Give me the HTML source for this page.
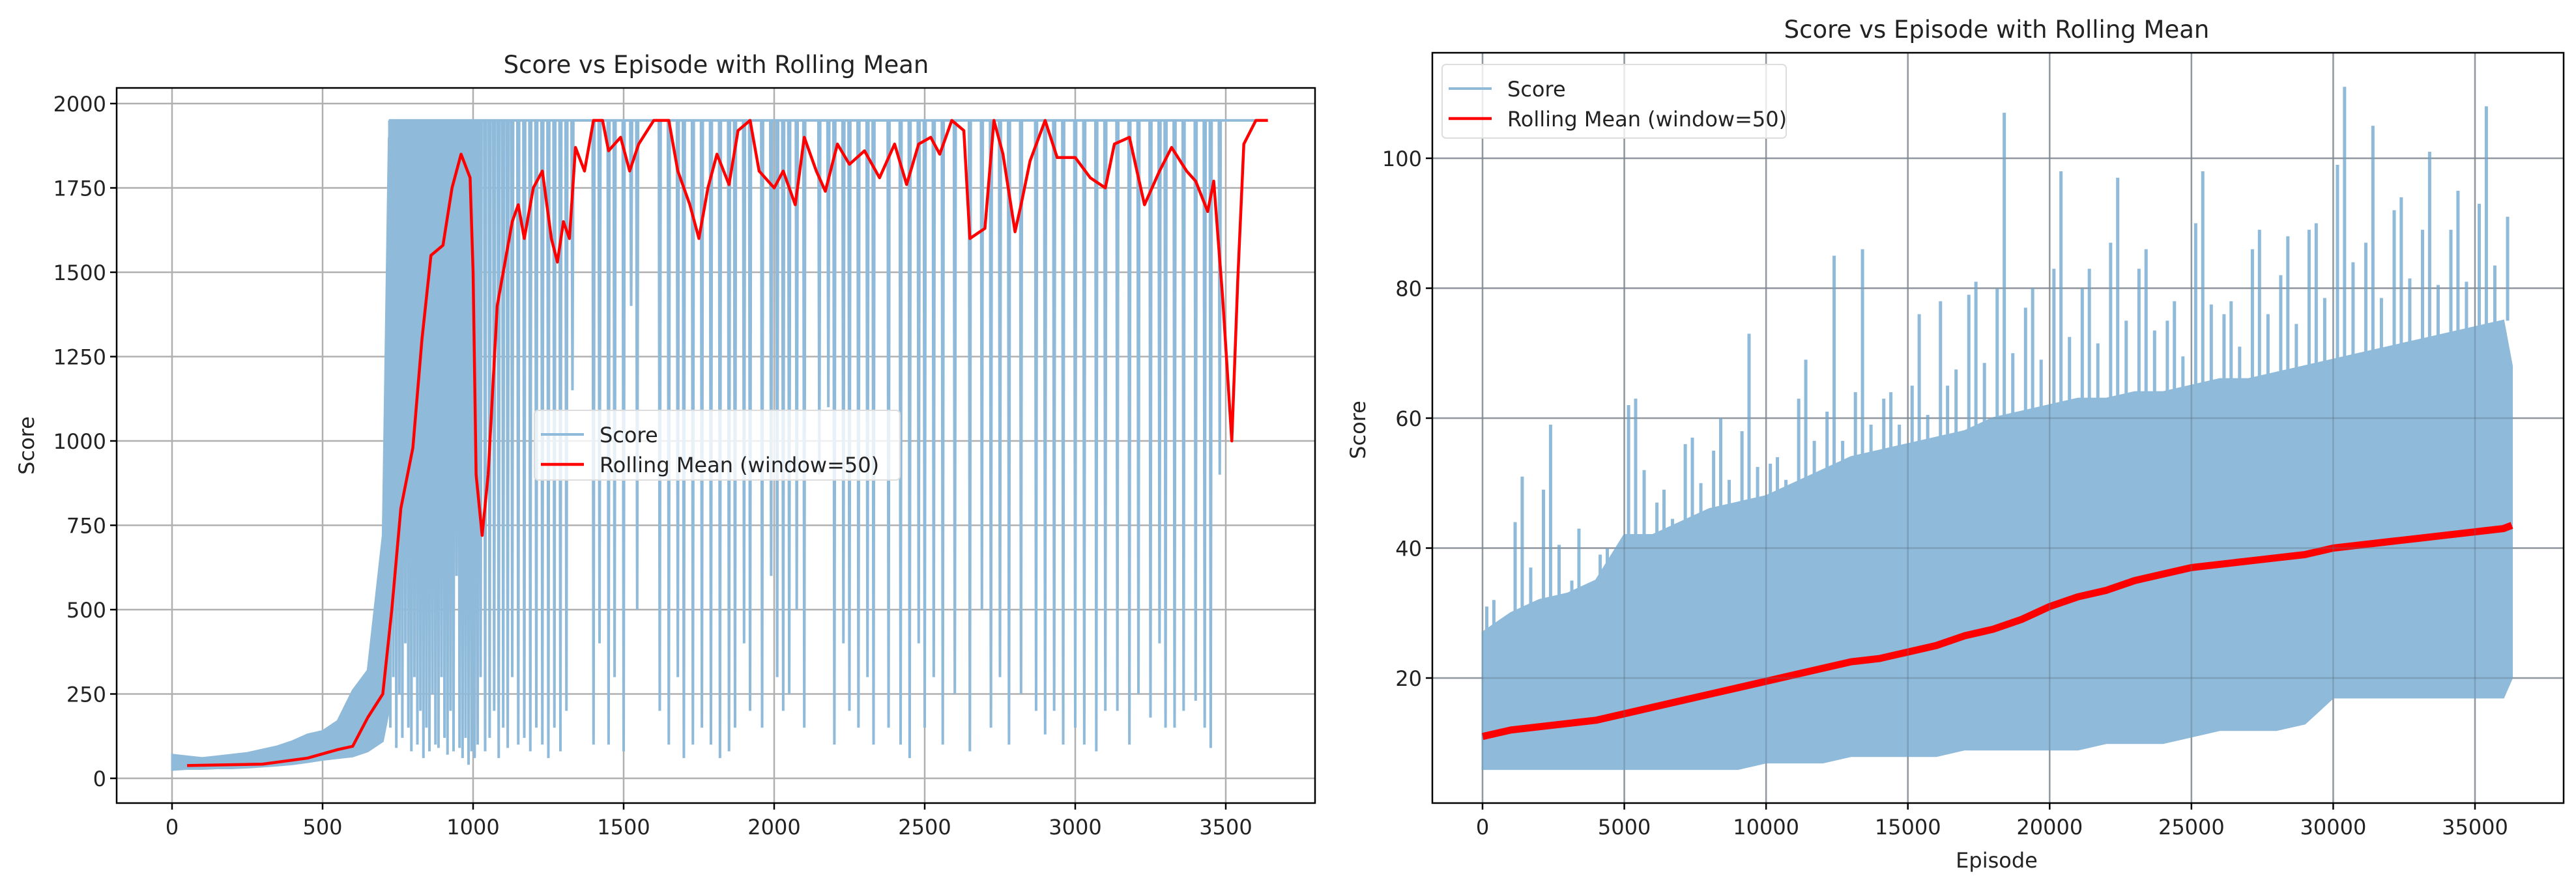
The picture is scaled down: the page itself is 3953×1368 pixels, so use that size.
<!DOCTYPE html>
<html><head><meta charset="utf-8"><style>
html,body{margin:0;padding:0;background:#fff}
svg{display:block}
text{font-family:"DejaVu Sans","Liberation Sans",sans-serif;fill:#222}
</style></head><body>
<svg id="s" width="3953" height="1368" viewBox="0 0 3953 1368" xmlns="http://www.w3.org/2000/svg"></svg>
<script>
// ---------- Left chart data ----------
const leftXTicks=[0,500,1000,1500,2000,2500,3000,3500];
const leftYTicks=[0,250,500,750,1000,1250,1500,1750,2000];
const earlyEp=[0,50,100,150,200,250,300,350,400,450,500,550,600,650,700,720];
const earlyHigh=[70,65,60,65,70,75,85,95,110,130,140,170,260,320,720,1900];
const earlyLow=[25,28,28,30,30,32,35,38,42,48,55,60,65,80,110,200];
const capScore=1950;
const dipEp=[725,735,745,755,765,775,785,795,805,815,825,835,845,855,865,875,885,895,905,915,925,935,945,955,965,975,985,995,1005,1015,1025,1040,1055,1070,1085,1100,1115,1130,1150,1170,1190,1210,1230,1250,1270,1290,1310,1330,1400,1420,1450,1470,1500,1525,1545,1620,1650,1680,1700,1730,1760,1790,1820,1850,1870,1900,1920,1960,1990,2010,2030,2050,2075,2100,2150,2180,2200,2230,2250,2280,2310,2330,2380,2420,2450,2480,2500,2530,2560,2600,2650,2690,2720,2750,2780,2820,2870,2900,2930,2960,3000,3030,3070,3100,3140,3180,3210,3250,3280,3300,3330,3360,3400,3430,3450,3480];
const dipLow=[150,300,90,250,120,400,150,80,300,100,200,60,150,80,250,100,90,300,120,70,200,80,600,90,60,120,40,80,60,100,300,80,120,200,60,150,90,300,100,120,80,150,100,60,150,80,200,1150,100,400,100,300,80,1400,500,200,100,300,60,100,150,100,60,80,150,400,200,150,600,300,200,250,500,150,900,1100,100,400,200,150,300,100,150,100,60,400,150,300,100,250,80,500,150,300,100,250,200,130,200,100,150,100,80,200,200,100,250,180,400,150,150,200,230,150,90,900];
const meanEp=[50,300,450,550,600,650,700,730,760,800,830,860,900,930,960,990,1000,1010,1030,1050,1080,1100,1130,1150,1170,1200,1230,1260,1280,1300,1320,1340,1370,1400,1430,1450,1490,1520,1550,1600,1650,1680,1720,1750,1780,1810,1850,1880,1920,1950,2000,2030,2070,2100,2140,2170,2210,2250,2300,2350,2400,2440,2480,2520,2550,2590,2630,2650,2700,2730,2760,2800,2820,2850,2900,2940,3000,3050,3100,3130,3180,3230,3280,3320,3370,3400,3440,3460,3490,3520,3540,3560,3600,3640];
const meanVal=[38,42,60,85,95,180,250,500,800,980,1300,1550,1580,1750,1850,1780,1500,900,720,900,1400,1500,1650,1700,1600,1750,1800,1600,1530,1650,1600,1870,1800,1950,1950,1860,1900,1800,1880,1950,1950,1800,1700,1600,1750,1850,1760,1920,1950,1800,1750,1800,1700,1900,1800,1740,1880,1820,1860,1780,1880,1760,1880,1900,1850,1950,1920,1600,1630,1950,1850,1620,1700,1830,1950,1840,1840,1780,1750,1880,1900,1700,1800,1870,1800,1770,1680,1770,1420,1000,1480,1880,1950,1950];

// ---------- Right chart data ----------
const rightXTicks=[0,5000,10000,15000,20000,25000,30000,35000];
const rightYTicks=[20,40,60,80,100];
const rEp=[0,1000,2000,3000,4000,5000,6000,7000,8000,9000,10000,11000,12000,13000,14000,15000,16000,17000,18000,19000,20000,21000,22000,23000,24000,25000,26000,27000,28000,29000,30000,31000,32000,33000,34000,35000,36000,36300];
const rSpike=[32,51,59,43,40,63,49,57,60,73,54,69,85,86,64,76,65,81,107,80,98,83,97,86,78,98,78,89,88,90,111,105,94,101,95,108,98,91];
const rSpike2=[31,44,49,35,39,62,47,56,55,58,53,63,61,64,63,65,78,79,80,77,83,80,87,83,75,90,76,86,82,89,99,87,92,89,89,93,91,80];
const rBodyHigh=[27,30,32,33,35,42,42,44,46,47,48,50,52,54,55,56,57,58,60,61,62,63,63,64,64,65,66,66,67,68,69,70,71,72,73,74,75,68];
const rBodyLow=[6,6,6,6,6,6,6,6,6,6,7,7,7,8,8,8,8,9,9,9,9,9,10,10,10,11,12,12,12,13,17,17,17,17,17,17,17,20];
const rMean=[11,12,12.5,13,13.5,14.5,15.5,16.5,17.5,18.5,19.5,20.5,21.5,22.5,23,24,25,26.5,27.5,29,31,32.5,33.5,35,36,37,37.5,38,38.5,39,40,40.5,41,41.5,42,42.5,43,43.5];

// ---------- helpers ----------
const svg=document.getElementById('s');
const NS='http://www.w3.org/2000/svg';
function mk(tag,attrs,parent){const e=document.createElementNS(NS,tag);for(const k in attrs)e.setAttribute(k,attrs[k]);(parent||svg).appendChild(e);return e;}
const BLUE='#8fbad9';

function axes(cfg){
  const g=mk('g',{});
  
  
  const X=v=>cfg.x0px+(v-cfg.x0)/(cfg.x1-cfg.x0)*(cfg.x1px-cfg.x0px);
  const Y=v=>cfg.y0px+(v-cfg.y0)/(cfg.y1-cfg.y0)*(cfg.y1px-cfg.y0px);
  const grid=mk('g',{},g);
  
  
  const plot=mk('g',{},g);
  
  
  cfg.xticks.forEach(t=>{
    const x=X(t);
    mk('line',{x1:x,x2:x,y1:cfg.top,y2:cfg.bottom,stroke:'#b0b0b0','stroke-width':2.5},grid);
    mk('line',{x1:x,x2:x,y1:cfg.bottom,y2:cfg.bottom+10,stroke:'#000','stroke-width':2.5},g);
    const tx=mk('text',{x:x,y:cfg.bottom+48,'font-size':32,'text-anchor':'middle'},g);
    tx.textContent=t;
    
    
  });
  cfg.yticks.forEach(t=>{
    const y=Y(t);
    mk('line',{x1:cfg.left,x2:cfg.right,y1:y,y2:y,stroke:'#b0b0b0','stroke-width':2.5},grid);
    mk('line',{x1:cfg.left-10,x2:cfg.left,y1:y,y2:y,stroke:'#000','stroke-width':2.5},g);
    const tx=mk('text',{x:cfg.left-16,y:y+12,'font-size':32,'text-anchor':'end'},g);
    tx.textContent=t;
    
    
  });
  return {g,plot,grid,X,Y};
}
function frame(g,cfg){
  const r=mk('rect',{x:cfg.left,y:cfg.top,width:cfg.right-cfg.left,height:cfg.bottom-cfg.top,fill:'none',stroke:'#000','stroke-width':2.5},g);
  
  
}
function legend(g,x,y,w,h){
  const lg=mk('g',{},g);
  
  
  mk('rect',{x:x,y:y,width:w,height:h,rx:6,fill:'rgba(255,255,255,0.8)',stroke:'#dddddd','stroke-width':2},lg);
  const e1=mk('g',{},lg);
  
  
  mk('line',{x1:x+10,x2:x+76,y1:y+37,y2:y+37,stroke:BLUE,'stroke-width':4},e1);
  const t1=mk('text',{x:x+100,y:y+49,'font-size':32},e1);t1.textContent='Score';
  const e2=mk('g',{},lg);
  
  
  mk('line',{x1:x+10,x2:x+76,y1:y+83,y2:y+83,stroke:'#ff0000','stroke-width':4.5},e2);
  const t2=mk('text',{x:x+100,y:y+95,'font-size':32},e2);t2.textContent='Rolling Mean (window=50)';
}
function title(txt,x,y,name){
  const t=mk('text',{x:x,y:y,'font-size':37,'text-anchor':'middle'});
  t.textContent=txt;
  
  
}

// ---------- Left chart ----------
const L={name:'left-chart',left:179,right:2018,top:135,bottom:1233,x0:0,x1:3500,x0px:264,x1px:1881,y0:0,y1:2000,y0px:1195,y1px:159,xticks:leftXTicks,yticks:leftYTicks};
const A=axes(L);
{
  let d='M'+earlyEp.map((e,i)=>A.X(e)+','+A.Y(earlyHigh[i])).join(' L');
  for(let i=earlyEp.length-1;i>=0;i--) d+=' L'+A.X(earlyEp[i])+','+A.Y(earlyLow[i]);
  const p=mk('path',{d:d+'Z',fill:BLUE,stroke:BLUE,'stroke-width':3},A.plot);
  
  
  let s='M'+A.X(720)+','+A.Y(capScore);
  dipEp.forEach((e,i)=>{
    s+=' L'+A.X(e-3)+','+A.Y(capScore)+' L'+A.X(e)+','+A.Y(dipLow[i])+' L'+A.X(e+3)+','+A.Y(capScore);
  });
  s+=' L'+A.X(3620)+','+A.Y(capScore);
  const ln=mk('path',{d:s,fill:'none',stroke:BLUE,'stroke-width':4,'stroke-linejoin':'miter'},A.plot);
  
  
  const dense=mk('rect',{x:A.X(722),y:A.Y(capScore),width:A.X(1000)-A.X(722),height:A.Y(1450)-A.Y(capScore),fill:BLUE},A.plot);
  
  
  const m=mk('path',{d:'M'+meanEp.map((e,i)=>A.X(e)+','+A.Y(meanVal[i])).join(' L'),fill:'none',stroke:'#ff0000','stroke-width':4.5,'stroke-linejoin':'round'},A.plot);
  
  
}
frame(A.g,L);
legend(A.g,820,630,561,107);
title('Score vs Episode with Rolling Mean',1099,112,'left-chart-title');
{const t=mk('text',{x:0,y:0,'font-size':32,'text-anchor':'middle',transform:'translate(52,684) rotate(-90)'});t.textContent='Score';}

// ---------- Right chart ----------
const R={name:'right-chart',left:2198,right:3934,top:81,bottom:1233,x0:0,x1:35000,x0px:2275,x1px:3798,y0:20,y1:100,y0px:1041,y1px:243,xticks:rightXTicks,yticks:rightYTicks};
const B=axes(R);
const lastEp=rEp[rEp.length-1];
{
  let d='M'+rEp.map((e,i)=>B.X(e)+','+B.Y(rBodyHigh[i])).join(' L');
  for(let i=rEp.length-1;i>=0;i--) d+=' L'+B.X(rEp[i])+','+B.Y(rBodyLow[i]);
  const p=mk('path',{d:d+'Z',fill:BLUE,stroke:BLUE,'stroke-width':3},B.plot);
  
  
  let s='';
  rEp.forEach((e,i)=>{
    if(e+400<=lastEp) s+='M'+B.X(e+400)+','+B.Y(rBodyHigh[i])+' L'+B.X(e+400)+','+B.Y(rSpike[i])+' ';
    if(e+150<=lastEp) s+='M'+B.X(e+150)+','+B.Y(rBodyHigh[i])+' L'+B.X(e+150)+','+B.Y(rSpike2[i])+' ';
    if(e+700<=lastEp) s+='M'+B.X(e+700)+','+B.Y(rBodyHigh[i])+' L'+B.X(e+700)+','+B.Y((rSpike2[i]+rBodyHigh[i])/2)+' ';
  });
  const sp=mk('path',{d:s,fill:'none',stroke:BLUE,'stroke-width':5},B.plot);
  
  
  const m=mk('path',{d:'M'+rEp.map((e,i)=>B.X(e)+','+B.Y(rMean[i])).join(' L'),fill:'none',stroke:'#ff0000','stroke-width':11,'stroke-linejoin':'round'},B.plot);
  
  
}
rightXTicks.forEach(t=>{const l=mk('line',{x1:B.X(t),x2:B.X(t),y1:R.top,y2:R.bottom,stroke:'rgba(90,110,130,0.35)','stroke-width':2.5},B.g);});
rightYTicks.forEach(t=>{const l=mk('line',{x1:R.left,x2:R.right,y1:B.Y(t),y2:B.Y(t),stroke:'rgba(90,110,130,0.35)','stroke-width':2.5},B.g);});
frame(B.g,R);
legend(B.g,2213,99,528,113);
title('Score vs Episode with Rolling Mean',3064,58,'right-chart-title');
{const t=mk('text',{x:3064,y:1332,'font-size':32,'text-anchor':'middle'});t.textContent='Episode';}
{const t=mk('text',{x:0,y:0,'font-size':32,'text-anchor':'middle',transform:'translate(2095,660) rotate(-90)'});t.textContent='Score';}
</script>
</body></html>
